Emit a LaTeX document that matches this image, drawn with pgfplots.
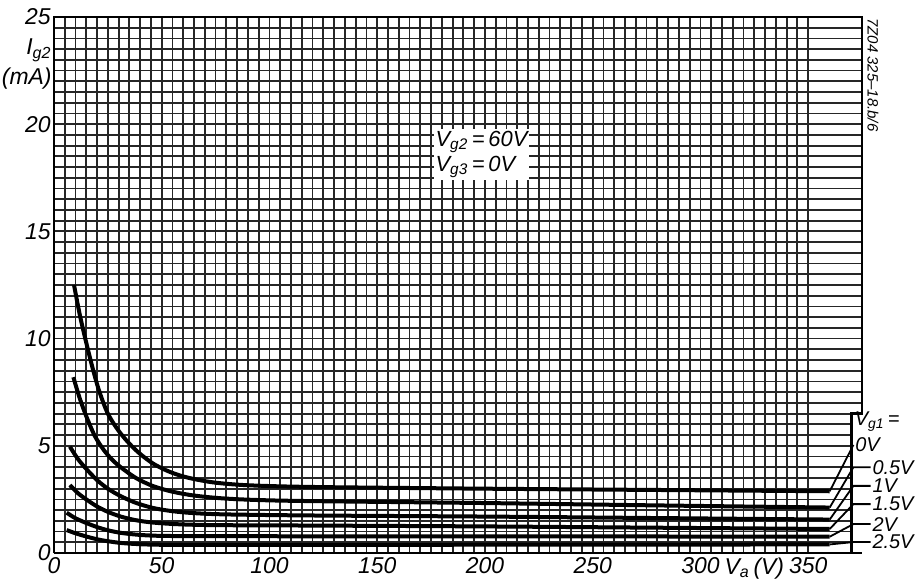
\documentclass[border=0pt]{standalone}
\usepackage{fontspec}
\setmainfont{Liberation Sans}
\usepackage{pgfplots}
\pgfplotsset{compat=1.18}
\begin{document}
\begin{tikzpicture}[
    curve/.style={black, line width=2bp, smooth},
    leader/.style={black, line width=0.9bp},
    lbl/.style={font=\fontsize{10}{12}\selectfont\itshape, inner sep=0.5bp},
]
\begin{axis}[
    scale only axis,
    width=404bp, height=268bp,
    xmin=0, xmax=375, ymin=0, ymax=25,
    xtick={0,50,...,350}, ytick={0,5,...,25},
    minor x tick num=9, minor y tick num=9,
    grid=both,
    major grid style={black!85, line width=0.9bp},
    minor grid style={black!85, line width=0.9bp},
    major tick length=0pt, minor tick length=0pt,
    axis line style={draw=none},
    tick label style={font=\fontsize{11.5}{13}\selectfont\itshape},
    yticklabel style={inner xsep=1.5bp},
    xticklabel style={inner ysep=2bp},
    /pgf/number format/assume math mode=true,
    clip=false,
]
% V_g1 = 0 V
\addplot[curve, no marks] coordinates {(9.3,12.5) (12,11.1) (15,9.8) (18,8.6) (21,7.55)
  (25,6.5) (30,5.7) (35,5.1) (40,4.62) (46,4.17) (52,3.86) (58,3.63) (65,3.45)
  (75,3.28) (90,3.16) (120,3.08) (200,3.0) (280,2.94) (360,2.88)};
% -0.5 V
\addplot[curve, no marks] coordinates {(9,8.2) (12,7.2) (15.5,6.25) (19,5.45) (23,4.82)
  (27,4.35) (31,4.0) (38,3.5) (46,3.12) (55,2.86) (65,2.68) (78,2.55) (95,2.47)
  (120,2.42) (200,2.33) (280,2.22) (360,2.12)};
% -1 V
\addplot[curve, no marks] coordinates {(7.4,4.96) (11,4.4) (15,3.92) (20,3.4) (25,3.0)
  (31,2.65) (38,2.34) (46,2.1) (55,1.95) (65,1.86) (80,1.8) (120,1.75) (200,1.7)
  (280,1.63) (360,1.56)};
% -1.5 V
\addplot[curve, no marks] coordinates {(7.4,3.17) (11,2.8) (15,2.5) (20,2.17) (25,1.92)
  (31,1.7) (38,1.53) (46,1.42) (58,1.34) (75,1.3) (120,1.28) (200,1.24) (280,1.18)
  (360,1.12)};
% -2 V
\addplot[curve, no marks] coordinates {(5.9,1.88) (10,1.62) (15,1.4) (20,1.21) (25,1.06)
  (31,0.94) (38,0.86) (46,0.81) (60,0.79) (120,0.78) (200,0.78) (360,0.76)};
% -2.5 V
\addplot[curve, no marks] coordinates {(5.9,1.07) (10,0.92) (15,0.77) (20,0.64) (25,0.55)
  (31,0.47) (38,0.42) (46,0.39) (60,0.38) (120,0.38) (360,0.4)};

% cut the grid where the V_g1 labels sit
\fill[white] (axis cs:370.4,0.06) rectangle (axis cs:377,6.44);
% frame
\draw[black, line width=1.3bp] (axis cs:0,0) -- (axis cs:0,25) -- (axis cs:375,25)
  -- (axis cs:375,6.5) -- (axis cs:370,6.5) -- (axis cs:370,0);
\draw[black, line width=1.3bp] (axis cs:0,0) -- (axis cs:375,0);

% labels of the curves
\node[lbl, anchor=west] at (axis cs:371,6.15) {V\textsubscript{g1}\,=};
\draw[leader] (axis cs:360,2.88) -- (axis cs:371,5.04) node[lbl, anchor=west] {0V};
\draw[leader] (axis cs:360,2.12) -- (axis cs:371,4.0) -- (axis cs:379,4.0) node[lbl, anchor=west] {0.5V};
\draw[leader] (axis cs:360,1.56) -- (axis cs:371,3.13) -- (axis cs:379,3.13) node[lbl, anchor=west] {1V};
\draw[leader] (axis cs:360,1.12) -- (axis cs:371,2.28) -- (axis cs:379,2.28) node[lbl, anchor=west] {1.5V};
\draw[leader] (axis cs:360,0.76) -- (axis cs:371,1.35) -- (axis cs:379,1.35) node[lbl, anchor=west] {2V};
\draw[leader] (axis cs:360,0.4) -- (axis cs:371,0.51) -- (axis cs:379,0.51) node[lbl, anchor=west] {2.5V};

% conditions
\node[anchor=north west, fill=white, inner sep=1bp, align=left,
  font=\fontsize{11}{12.5}\selectfont\itshape] at (axis cs:176,19.8)
  {V\textsubscript{g2}\,=\,60V\\V\textsubscript{g3}\,=\,0V};

% axis titles
\node[anchor=east, inner sep=1bp, font=\fontsize{11.5}{13}\selectfont\itshape]
  at (axis cs:0,23.45) {I\textsubscript{g2}};
\node[anchor=east, inner sep=1bp, font=\fontsize{11.5}{13}\selectfont\itshape]
  at (axis cs:0,22.15) {(mA)};
\node[anchor=north, inner ysep=2bp, font=\fontsize{11.5}{13}\selectfont\itshape]
  at (axis cs:325,0) {V\textsubscript{a}\,(V)};

% drawing code
\node[rotate=-90, anchor=south west, inner sep=0pt, font=\fontsize{7.5}{8}\selectfont\itshape]
  at ([xshift=2.5bp, yshift=-0.5bp]axis cs:375,25) {7Z04 325--18.b/6};

\coordinate (bbsw) at (rel axis cs:-0.0668,-0.0597);
\coordinate (bbne) at (rel axis cs:1.0668,1.0317);
\end{axis}
\pgfresetboundingbox
\useasboundingbox (bbsw) rectangle (bbne);
\end{tikzpicture}
\end{document}
